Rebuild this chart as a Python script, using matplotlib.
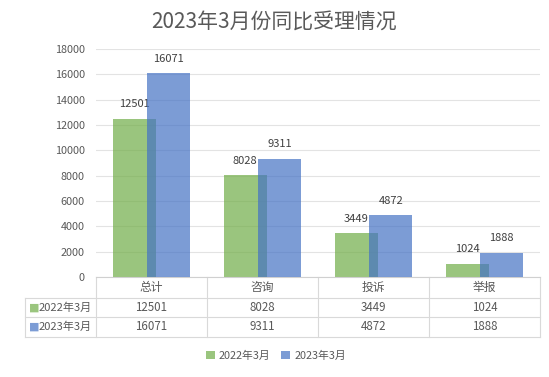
import matplotlib.pyplot as plt
import numpy as np

plt.rcParams['font.family'] = ['Noto Sans CJK SC', 'DejaVu Sans']

# data
categories = ['总计', '咨询', '投诉', '举报']
series_names = ['2022年3月', '2023年3月']
values_2022 = [12501, 8028, 3449, 1024]
values_2023 = [16071, 9311, 4872, 1888]
colors = ['#70ad47', '#4472c4']
text_color = '#595959'
grid_color = '#e3e3e3'

fig = plt.figure(figsize=(5.49, 3.77), dpi=100)
ax = fig.add_axes([96 / 549, 1 - 277 / 377, 444 / 549, 228 / 377])

x = np.arange(len(categories))
width = 0.39
offset = 0.155
series = [values_2022, values_2023]
for i, vals in enumerate(series):
    pos = x + (offset if i else -offset)
    bars = ax.bar(pos, vals, width, color=colors[i], alpha=0.7, zorder=2 + i,
                  label=series_names[i])
    for b, v in zip(bars, vals):
        ax.annotate(str(v), (b.get_x() + b.get_width() / 2, v),
                    xytext=(0, 7), textcoords='offset points',
                    ha='center', va='bottom', fontsize=8, color='#404040')

ax.set_xlim(-0.5, len(categories) - 0.5)
ax.set_ylim(0, 18000)
ax.set_yticks(np.arange(0, 18001, 2000))
ax.tick_params(axis='y', length=0, labelsize=7.8, labelcolor=text_color, pad=8)
ax.set_xticks([])
ax.grid(axis='y', color=grid_color, linewidth=0.8, zorder=0)
for s in ['top', 'right', 'left']:
    ax.spines[s].set_visible(False)
ax.spines['bottom'].set_color('#d0d0d0')

# data table below the plot
px = 1 / 228.0
row_edges = [0, -20.5 * px, -40 * px, -59.5 * px]
lbl_left = -71 / 444.0
kw = dict(transform=ax.transAxes, clip_on=False, color='#d9d9d9', linewidth=0.8)
ax.plot([1, 1], [0, row_edges[-1]], **kw)
for k in range(len(categories)):
    ax.plot([k / 4, k / 4], [0, row_edges[-1]], **kw)
ax.plot([lbl_left, lbl_left], [row_edges[1], row_edges[-1]], **kw)
ax.plot([0, 1], [row_edges[1], row_edges[1]], **kw)
ax.plot([lbl_left, 0], [row_edges[1], row_edges[1]], **kw)
for ry in row_edges[2:]:
    ax.plot([lbl_left, 1], [ry, ry], **kw)

for k, c in enumerate(categories):
    ax.text((k + 0.5) / 4, (row_edges[0] + row_edges[1]) / 2, c, transform=ax.transAxes,
            ha='center', va='center', fontsize=8.5, color=text_color)
for r, vals in enumerate(series):
    yc = (row_edges[r + 1] + row_edges[r + 2]) / 2
    ax.text(lbl_left + 4 / 444, yc, '■', transform=ax.transAxes, ha='left', va='center',
            fontsize=8, color=colors[r], alpha=0.7, family='DejaVu Sans')
    ax.text(lbl_left + 14 / 444, yc, series_names[r], transform=ax.transAxes,
            ha='left', va='center', fontsize=8, color=text_color)
    for k, v in enumerate(vals):
        ax.text((k + 0.5) / 4, yc, str(v), transform=ax.transAxes,
                ha='center', va='center', fontsize=8.3, color=text_color)

fig.text(0.5, 1 - 22 / 377, '2023年3月份同比受理情况', ha='center', va='center',
         fontsize=15, color=text_color)

leg = fig.legend(loc='center', bbox_to_anchor=(276 / 549, 1 - 356 / 377), ncol=2,
                 frameon=False, fontsize=7.8, handlelength=0.8, handleheight=0.8,
                 handletextpad=0.4, columnspacing=1.0)
for t in leg.get_texts():
    t.set_color(text_color)

fig.savefig('out.png', dpi=100)
